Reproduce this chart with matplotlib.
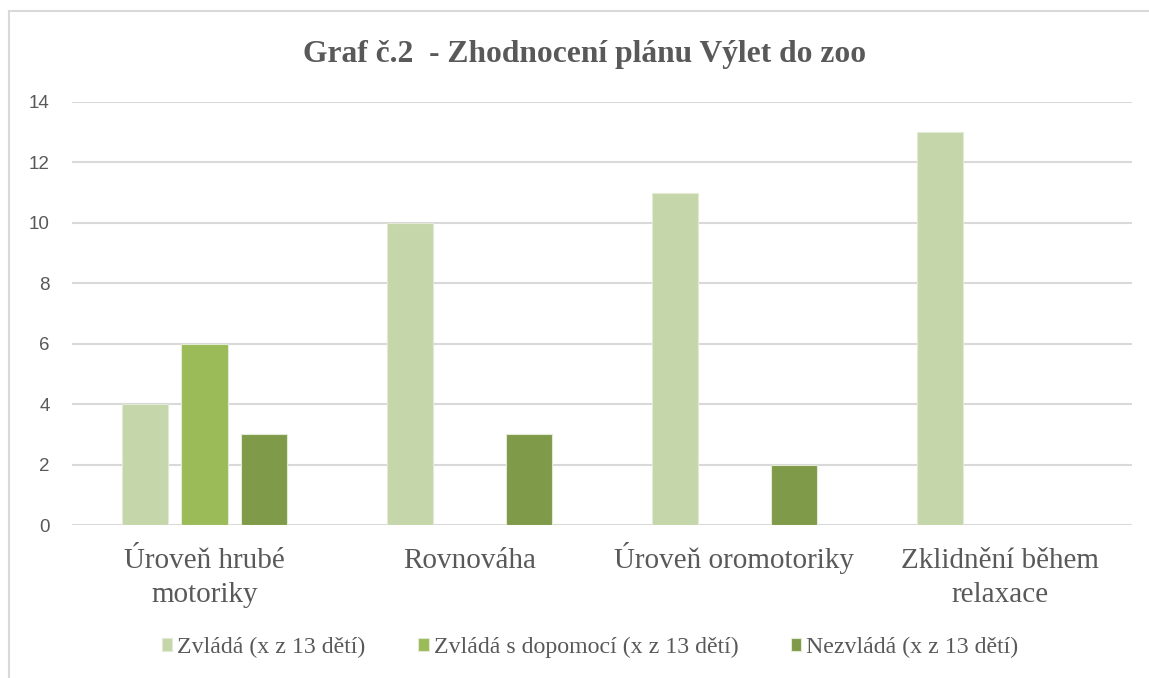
import matplotlib
matplotlib.use("Agg")
import matplotlib.pyplot as plt
import matplotlib.transforms as mtransforms
import numpy as np
from matplotlib.patches import Rectangle

categories = ["Úroveň hrubé\nmotoriky", "Rovnováha", "Úroveň oromotoriky", "Zklidnění během\nrelaxace"]
series_names = ["Zvládá (x z 13 dětí)", "Zvládá s dopomocí (x z 13 dětí)", "Nezvládá (x z 13 dětí)"]
zvlada = [4, 10, 11, 13]
s_dopomoci = [6, 0, 0, 0]
nezvlada = [3, 3, 2, 0]
yticks = [0, 2, 4, 6, 8, 10, 12, 14]
title = "Graf č.2  - Zhodnocení plánu Výlet do zoo"

colors = ["#C5D6AB", "#9BBB59", "#7F9A48"]
W, H = 1149, 678
fig = plt.figure(figsize=(W / 100, H / 100), dpi=100)
fig.patch.set_facecolor("white")

# chart border (partially outside image on right/bottom)
fig.patches.append(Rectangle((9 / W, -0.05), 1.2, (H - 11) / H + 0.05, transform=fig.transFigure,
                             fill=False, edgecolor="#D9D9D9", linewidth=1.5))

ax = fig.add_axes([72 / W, 1 - 525 / H, (1132 - 72) / W, (525 - 102) / H])
x = np.arange(len(categories))
bw = 0.174
step = 0.223
for i, (vals, c, name) in enumerate(zip([zvlada, s_dopomoci, nezvlada], colors, series_names)):
    ax.bar(x + (i - 1) * step, vals, width=bw, color=c, edgecolor="#E2EAD5", linewidth=0.8,
           label=name, zorder=3)

ax.set_xlim(-0.5, len(categories) - 0.5)
ax.set_ylim(0, 14)
ax.set_yticks(yticks)
ax.set_yticklabels([str(t) for t in yticks], fontfamily="Liberation Sans", fontsize=13.5, color="#595959")
ax.grid(axis="y", color="#D9D9D9", linewidth=1.5, zorder=0)
ax.set_axisbelow(True)
for s in ax.spines.values():
    s.set_visible(False)
ax.tick_params(axis="y", length=0, pad=16)
ax.set_xticks(x)
ax.set_xticklabels([])
ax.tick_params(axis="x", length=0)

trans = mtransforms.blended_transform_factory(ax.transData, fig.transFigure)
for xi, cat in zip(x, categories):
    for k, line in enumerate(cat.split("\n")):
        ax.text(xi, 1 - (568 + 34 * k) / H, line, transform=trans, ha="center", va="baseline",
                fontfamily="Liberation Serif", fontsize=21, color="#595959", clip_on=False)

fig.text(585 / W, 1 - 62 / H, title, ha="center", va="baseline", fontfamily="Liberation Serif",
         fontsize=22.7, fontweight="bold", color="#595959")

leg = fig.legend(loc="center", bbox_to_anchor=(590 / W, 1 - 647 / H), ncol=3, frameon=False,
                 prop={"family": "Liberation Serif", "size": 17.2}, handlelength=0.45, handleheight=0.45,
                 handletextpad=0.2, columnspacing=2.2)
for t in leg.get_texts():
    t.set_color("#595959")

fig.savefig("out.png", dpi=100, facecolor="white")
